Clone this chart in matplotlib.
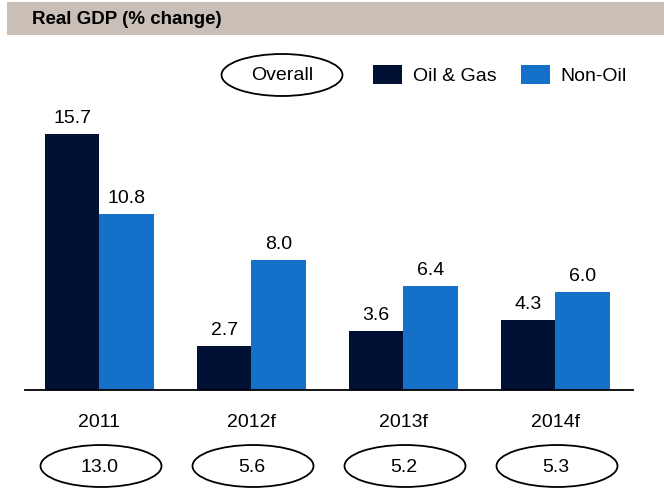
import matplotlib.pyplot as plt
import numpy as np
from matplotlib.patches import Ellipse, Rectangle
from matplotlib.transforms import blended_transform_factory

plt.rcParams['font.family'] = ['Liberation Sans', 'DejaVu Sans']

years = ['2011', '2012f', '2013f', '2014f']
oil_gas = [15.7, 2.7, 3.6, 4.3]
non_oil = [10.8, 8.0, 6.4, 6.0]
overall = [13.0, 5.6, 5.2, 5.3]

dark = '#001133'
light = '#1470C8'

fig = plt.figure(figsize=(6.64, 4.90), dpi=100)
W, H = 664, 490

# header band
fig.add_artist(Rectangle((7 / W, 1 - 35 / H), 1 - 7 / W, 33 / H,
                         transform=fig.transFigure, facecolor='#C9BFB6', edgecolor='none'))
fig.text(32 / W, 1 - 20 / H, 'Real GDP (% change)', fontsize=13.5, fontweight='bold',
         va='center', ha='left')

ax = fig.add_axes([25 / W, 1 - 390 / H, 608 / W, 290 / H])
x = np.arange(len(years))
w = 0.36
b1 = ax.bar(x - w / 2, oil_gas, w, color=dark, label='Oil & Gas')
b2 = ax.bar(x + w / 2, non_oil, w, color=light, label='Non-Oil')
ax.set_xlim(-0.49, 3.51)
ax.set_ylim(0, 290 / 16.3)
for s in ['top', 'left', 'right']:
    ax.spines[s].set_visible(False)
ax.spines['bottom'].set_linewidth(1.3)
ax.set_xticks([])
ax.set_yticks([])

for bars in (b1, b2):
    ax.bar_label(bars, labels=[f'{v:.1f}' for v in bars.datavalues], padding=5, fontsize=14)

tr = blended_transform_factory(ax.transData, fig.transFigure)
for i, (yr, ov) in enumerate(zip(years, overall)):
    ax.text(i, 1 - 422 / H, yr, transform=tr, ha='center', va='center', fontsize=14)
    fig.add_artist(Ellipse((i + 0.01, 1 - 466 / H), 121 / 152, 42 / H, transform=tr,
                           facecolor='none', edgecolor='black', linewidth=1.3, clip_on=False))
    ax.text(i, 1 - 467 / H, f'{ov:.1f}', transform=tr, ha='center', va='center', fontsize=14)

# legend
fig.add_artist(Ellipse((282 / W, 1 - 75 / H), 121 / W, 42 / H, transform=fig.transFigure,
                       facecolor='none', edgecolor='black', linewidth=1.3))
fig.text(282 / W, 1 - 76 / H, 'Overall', ha='center', va='center', fontsize=14)
fig.legend(handles=[b1, b2], loc='center left', bbox_to_anchor=(373 / W, 1 - 75 / H),
           ncol=2, frameon=False, fontsize=14, handlelength=1.49, handleheight=1.08,
           handletextpad=0.55, columnspacing=1.25, borderpad=0, borderaxespad=0)

fig.savefig('out.png', dpi=100)
